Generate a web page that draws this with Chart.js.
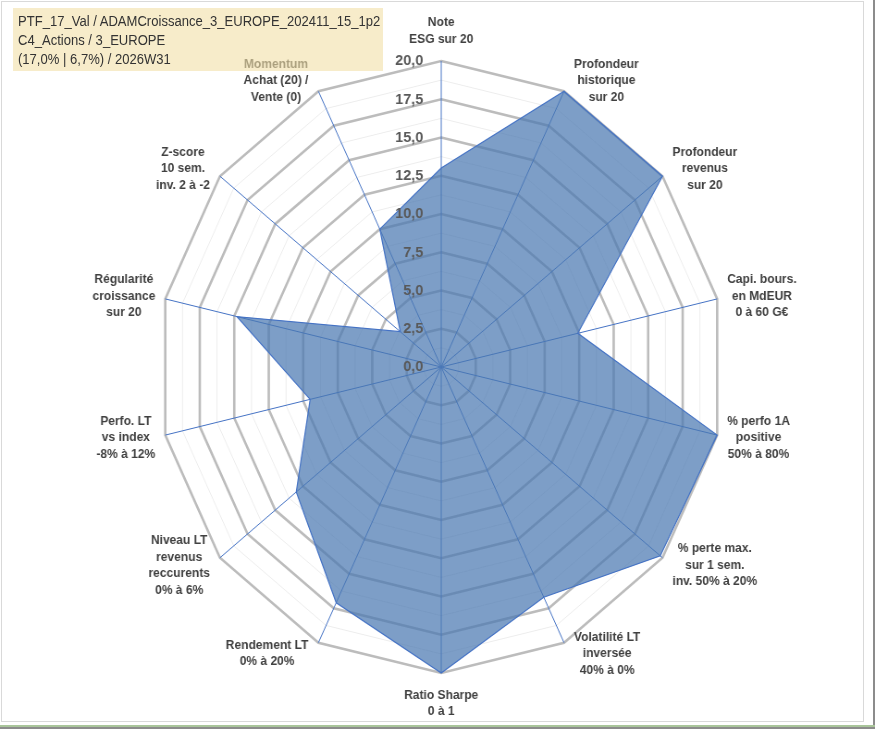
<!DOCTYPE html>
<html><head><meta charset="utf-8">
<script src="https://cdn.jsdelivr.net/npm/chart.js@4.4.0/dist/chart.umd.min.js"></script>
<style>
html,body{margin:0;padding:0;background:#fff;overflow:hidden;width:875px;height:729px;}
#wrap{position:absolute;left:0;top:0;width:946px;height:729px;transform:scaleX(0.92495);transform-origin:0 0;}
#frame{position:absolute;left:1px;top:1px;width:861px;height:719px;border:1px solid #d9d9d9;pointer-events:none;}
#rline{position:absolute;left:873px;top:0;width:2px;height:729px;background:#8c8c8c;}
#bline{position:absolute;left:0;top:725px;width:875px;height:2px;background:#a9c59a;}
#bline2{position:absolute;left:0;top:727px;width:875px;height:2px;background:#8c8c8c;}
#title{position:absolute;left:13px;top:8px;width:370px;height:63px;background:rgba(242,224,166,0.6);}
#title div{position:absolute;left:5px;white-space:nowrap;font:15.5px "Liberation Sans";color:#333333;transform-origin:0 50%;line-height:19px;}
</style>
</head><body>
<div id="wrap"><canvas id="c" width="946" height="729"></canvas></div>
<div id="frame"></div><div id="rline"></div><div id="bline"></div><div id="bline2"></div>
<div id="title"></div>
<script>
const titleLines = [
  "PTF_17_Val / ADAMCroissance_3_EUROPE_202411_15_1p2",
  "C4_Actions / 3_EUROPE",
  "(17,0% | 6,7%) / 2026W31"
];
const categories = [
  ["Note", "ESG sur 20"],
  ["Profondeur", "historique", "sur 20"],
  ["Profondeur", "revenus", "sur 20"],
  ["Capi. bours.", "en MdEUR", "0 à 60 G€"],
  ["% perfo 1A", "positive", "50% à 80%"],
  ["% perte max.", "sur 1 sem.", "inv. 50% à 20%"],
  ["Volatilité LT", "inversée", "40% à 0%"],
  ["Ratio Sharpe", "0 à 1"],
  ["Rendement LT", "0% à 20%"],
  ["Niveau LT", "revenus", "reccurents", "0% à 6%"],
  ["Perfo. LT", "vs index", "-8% à 12%"],
  ["Régularité", "croissance", "sur 20"],
  ["Z-score", "10 sem.", "inv. 2 à -2"],
  ["Momentum", "Achat (20) /", "Vente (0)"]
];
const scores = [13.0, 20, 20, 9.9, 20, 19.8, 16.7, 20, 17.1, 13.1, 9.5, 14.8, 3.7, 10];
const tickValues = [0, 2.5, 5, 7.5, 10, 12.5, 15, 17.5, 20];

// title box
const tdiv = document.getElementById('title');
const mc = document.createElement('canvas').getContext('2d');
mc.font = '15.5px "Liberation Sans"';
const maxW = Math.max(...titleLines.map(t => mc.measureText(t).width));
const sc = 363 / maxW;
titleLines.forEach((t, k) => {
  const d = document.createElement('div');
  d.textContent = t;
  d.style.top = (3 + k * 19) + 'px';
  d.style.transform = 'scaleX(' + sc + ')';
  tdiv.appendChild(d);
});

const isMajor = v => Math.abs(v / 2.5 - Math.round(v / 2.5)) < 1e-6;

const labelPlugin = {
  id: 'customLabels',
  afterDatasetsDraw(chart) {
    const s = chart.scales.r, ctx = chart.ctx;
    ctx.save();
    ctx.font = 'bold 15.5px "Liberation Sans"';
    ctx.fillStyle = '#595959';
    ctx.textAlign = 'right';
    ctx.textBaseline = 'middle';
    tickValues.forEach(v => {
      const d = s.getDistanceFromCenterForValue(v);
      ctx.fillText(v.toFixed(1).replace('.', ','), s.xCenter - 19.5, s.yCenter - d);
    });
    ctx.font = 'bold 13px "Liberation Sans"';
    ctx.fillStyle = '#404040';
    ctx.textAlign = 'center';
    const n = categories.length, lh = 16.5, gap = 10.8;
    categories.forEach((lines, i) => {
      const a = i * 2 * Math.PI / n, sn = Math.sin(a), cs = Math.cos(a);
      const p = s.getPointPosition(i, s.drawingArea);
      const w = Math.max(...lines.map(t => ctx.measureText(t).width));
      const half = (lines.length - 1) * lh / 2;
      let cx, cy;
      if (Math.abs(sn) < 1e-6) {
        cx = p.x;
        cy = cs > 0 ? p.y - 22 - half : p.y + 22 + half;
      } else {
        cx = sn > 0 ? p.x + gap + w / 2 : p.x - gap - w / 2;
        cy = p.y - 12 * cs;
      }
      lines.forEach((t, k) => ctx.fillText(t, cx, cy - half + k * lh));
    });
    ctx.restore();
  }
};

new Chart(document.getElementById('c'), {
  type: 'radar',
  data: {
    labels: categories,
    datasets: [{
      data: scores,
      fill: true,
      backgroundColor: 'rgba(75,120,178,0.72)',
      borderColor: '#4472c4',
      borderWidth: 1.2,
      pointRadius: 0,
      pointHoverRadius: 0,
      tension: 0
    }]
  },
  options: {
    responsive: false,
    devicePixelRatio: 1,
    animation: false,
    layout: { padding: { top: 61, bottom: 56, left: 8, right: 0 } },
    plugins: { legend: { display: false }, tooltip: { enabled: false }, title: { display: false } },
    scales: {
      r: {
        min: 0, max: 20,
        startAngle: 0,
        ticks: { display: false, stepSize: 1.25 },
        pointLabels: { display: false },
        angleLines: { display: true, color: '#4472c4', lineWidth: 1 },
        grid: {
          circular: false,
          color: c => isMajor(c.tick.value) ? '#bcbcbc' : '#ededed',
          lineWidth: c => isMajor(c.tick.value) ? 2.6 : 1
        }
      }
    }
  },
  plugins: [labelPlugin]
});
</script>
</body></html>
